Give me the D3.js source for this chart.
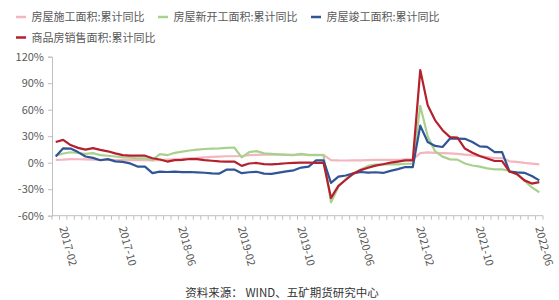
<!DOCTYPE html>
<html>
<head>
<meta charset="utf-8">
<script src="https://cdn.jsdelivr.net/npm/d3@7"></script>
<style>
  html, body { margin: 0; padding: 0; background: #fff; }
  svg { display: block; font-family: "Noto Sans CJK SC", "Noto Sans", sans-serif; }
</style>
</head>
<body>
<svg id="chart" width="559" height="300"></svg>
<script>
// monthly categories 2017-01 .. 2022-06 (January repeats the previous December)
const months = d3.timeMonth.range(new Date(2017, 0, 1), new Date(2022, 6, 1)).map(d3.timeFormat('%Y-%m'));
const tickLabels = ['2017-02', '2017-10', '2018-06', '2019-02', '2019-10', '2020-06', '2021-02', '2021-10', '2022-06'];
const yTicks = [-60, -30, 0, 30, 60, 90, 120];

const seriesNames = ['房屋施工面积:累计同比', '房屋新开工面积:累计同比', '房屋竣工面积:累计同比', '商品房销售面积:累计同比'];

const construction = [
  3.2, 3.4, 4.1, 3.9, 3.8, 3.4, 3.2, 3.4, 3.0, 3.0, 2.9, 3.0,
  3.0, 2.6, 3.0, 3.4, 3.9, 4.4, 4.8, 5.4, 6.0, 6.5, 6.9, 7.3,
  7.3, 7.6, 8.5, 8.9, 9.0, 9.0, 9.2, 9.1, 9.0, 9.2, 9.0, 8.9,
  8.9, 2.9, 2.6, 2.5, 2.6, 2.6, 3.0, 3.1, 3.1, 3.2, 3.2, 3.7,
  3.7, 10.9, 11.6, 11.2, 10.8, 10.5, 10.0, 9.2, 8.3, 7.3, 6.3, 5.2,
  5.2, 1.6, 1.0, -0.2, -1.0, -2.0
];
const newStarts = [
  8.1, 10.4, 11.8, 11.0, 10.0, 10.8, 8.6, 7.9, 7.0, 6.0, 5.7, 5.0,
  5.0, 2.9, 9.7, 8.5, 11.2, 12.5, 13.8, 14.8, 15.5, 16.0, 16.3, 16.8,
  17.2, 6.0, 11.9, 13.1, 10.5, 10.1, 9.5, 8.9, 8.6, 10.0, 8.6, 8.5,
  8.5, -44.9, -27.2, -18.4, -12.8, -7.6, -3.6, -2.1, -1.9, -1.6, -2.0, -1.2,
  -1.2, 64.3, 30.0, 12.8, 6.9, 3.8, 3.5, -0.9, -3.2, -4.5, -6.5, -7.5,
  -7.5, -9.0, -12.5, -20.0, -28.0, -33.5
];
const completions = [
  7.0, 16.3, 16.0, 12.0, 7.0, 5.5, 2.8, 4.0, 1.5, 1.0, -0.8, -4.4,
  -4.4, -11.8, -10.1, -10.5, -10.1, -10.6, -10.5, -11.0, -11.4, -12.0, -12.3, -7.8,
  -7.8, -11.9, -10.8, -10.3, -12.4, -12.7, -11.3, -9.9, -8.6, -5.5, -4.5, 2.6,
  2.6, -22.9, -15.8, -14.5, -12.1, -10.5, -11.3, -10.8, -11.6, -9.2, -7.3, -4.9,
  -4.9, 42.0, 23.5, 19.0, 17.8, 27.3, 27.3, 27.0, 23.4, 18.5, 18.0, 12.0,
  12.0, -10.0, -11.0, -11.5, -15.0, -20.0
];
const sales = [
  23.5, 25.8, 20.0, 16.8, 14.8, 16.5, 14.5, 12.9, 10.5, 8.5, 8.0, 7.9,
  7.9, 5.0, 3.6, 1.3, 2.9, 3.3, 4.2, 4.0, 2.9, 2.2, 1.4, 1.3,
  1.3, -3.6, -0.9, -0.3, -1.6, -1.8, -1.3, -0.6, -0.1, 0.1, 0.2, -0.1,
  -0.1, -39.9, -26.3, -19.3, -12.3, -8.4, -5.8, -3.3, -1.8, 0.0, 1.3, 2.6,
  2.6, 104.9, 65.0, 48.0, 36.8, 29.0, 28.5, 16.0, 11.3, 7.5, 4.8, 1.9,
  1.9, -10.0, -13.0, -20.0, -23.6, -22.0
];

const seriesValues = [construction, newStarts, completions, sales];
const colors = ['#F2B6BE', '#A9D18E', '#2F5597', '#B4202E'];

const svg = d3.select('#chart');
const plotLeft = 52, plotRight = 543, plotTop = 56.7, plotBottom = 215.7;

const x = d3.scaleBand().domain(months).range([plotLeft, plotRight]);
const y = d3.scaleLinear().domain([-60, 120]).range([plotBottom, plotTop]);
const cx = (m) => x(m) + x.bandwidth() / 2;

// legend
const legendPos = [[16, 17], [158, 17], [311, 17], [16, 37.5]];
const legend = svg.append('g').attr('class', 'legend');
seriesNames.forEach((name, i) => {
  const [lx, ly] = legendPos[i];
  legend.append('line')
    .attr('x1', lx).attr('x2', lx + 10)
    .attr('y1', ly).attr('y2', ly)
    .attr('stroke', colors[i]).attr('stroke-width', 2.5);
  legend.append('text')
    .attr('x', lx + 15.5).attr('y', ly + 4)
    .attr('font-size', 11).attr('fill', '#595959')
    .text(name);
});

// y axis
const yAxis = svg.append('g')
  .attr('transform', `translate(${plotLeft},0)`)
  .call(d3.axisLeft(y).tickValues(yTicks).tickSize(4).tickPadding(4).tickFormat((d) => d + '%'));
yAxis.select('.domain').attr('stroke', '#BFBFBF');
yAxis.selectAll('.tick line').attr('stroke', '#BFBFBF');
yAxis.selectAll('.tick text').attr('font-size', 11).attr('fill', '#595959')
  .attr('font-family', '"Noto Sans CJK SC", sans-serif');

// x axis: line, ticks between categories, rotated labels
const xAxis = svg.append('g').attr('class', 'x-axis');
xAxis.append('line')
  .attr('x1', plotLeft).attr('x2', plotRight)
  .attr('y1', plotBottom).attr('y2', plotBottom)
  .attr('stroke', '#BFBFBF');
const boundaries = months.map((m) => x(m)).concat([x(months[months.length - 1]) + x.bandwidth()]);
xAxis.selectAll('line.tick')
  .data(boundaries)
  .join('line')
  .attr('class', 'tick')
  .attr('x1', (d) => d).attr('x2', (d) => d)
  .attr('y1', plotBottom).attr('y2', plotBottom + 4)
  .attr('stroke', '#BFBFBF');
xAxis.selectAll('text')
  .data(tickLabels)
  .join('text')
  .attr('transform', (d) => `translate(${cx(d) - 4},${plotBottom + 12}) rotate(75)`)
  .attr('font-size', 11)
  .attr('fill', '#595959')
  .text((d) => d);

// lines
const line = d3.line()
  .x((d, i) => cx(months[i]))
  .y((d) => y(d));
svg.append('g').attr('class', 'lines')
  .selectAll('path')
  .data(seriesValues)
  .join('path')
  .attr('d', line)
  .attr('fill', 'none')
  .attr('stroke', (d, i) => colors[i])
  .attr('stroke-width', 2.2)
  .attr('stroke-linejoin', 'round');

// source note
svg.append('text')
  .attr('x', 282).attr('y', 297)
  .attr('text-anchor', 'middle')
  .attr('font-size', 11.5)
  .attr('fill', '#333')
  .text('资料来源： WIND、五矿期货研究中心');
</script>
</body>
</html>
